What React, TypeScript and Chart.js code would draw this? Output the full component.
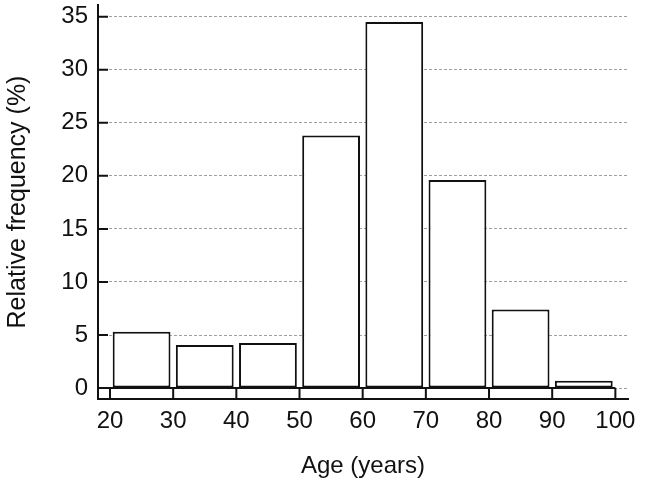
import React, { useEffect, useRef } from "react";
import { Chart, registerables } from "chart.js";

Chart.register(...registerables);

const binEdges = [20, 30, 40, 50, 60, 70, 80, 90, 100];
const frequencies = [5.3, 4.05, 4.25, 23.8, 34.5, 19.6, 7.4, 0.7];
const yTickValues = [0, 5, 10, 15, 20, 25, 30, 35];
const xTickValues = [20, 30, 40, 50, 60, 70, 80, 90, 100];
const xTitle = "Age (years)";
const yTitle = "Relative frequency (%)";

const FONT = "'Liberation Sans', Arial, sans-serif";

const inwardTicks = {
  id: "inwardTicks",
  afterDatasetsDraw(chart: any) {
    const ctx = chart.ctx;
    const xs = chart.scales.x;
    const ys = chart.scales.y;
    const area = chart.chartArea;
    ctx.save();
    ctx.strokeStyle = "#111";
    ctx.lineWidth = 2;
    ctx.beginPath();
    ys.ticks.forEach((t: any) => {
      const py = ys.getPixelForValue(t.value);
      ctx.moveTo(area.left, py);
      ctx.lineTo(area.left + 10, py);
    });
    const baseY = ys.getPixelForValue(0);
    xs.ticks.forEach((t: any) => {
      const px = xs.getPixelForValue(t.value);
      ctx.moveTo(px, area.bottom);
      ctx.lineTo(px, baseY);
    });
    ctx.stroke();
    ctx.restore();
  },
};

export default function App() {
  const ref = useRef<HTMLCanvasElement | null>(null);

  useEffect(() => {
    document.body.style.margin = "0";
    if (!ref.current) return;
    const centers = frequencies.map((_, i) => (binEdges[i] + binEdges[i + 1]) / 2);
    const chart = new Chart(ref.current, {
      type: "bar",
      data: {
        datasets: [
          {
            type: "bar",
            data: frequencies.map((v, i) => ({ x: centers[i], y: v })),
            backgroundColor: "#ffffff",
            borderColor: "#111111",
            borderWidth: 2,
            borderSkipped: false,
            barPercentage: 0.915,
            categoryPercentage: 1,
            order: 2,
          } as any,
          {
            type: "line",
            data: [
              { x: 18.1, y: 0 },
              { x: binEdges[binEdges.length - 1], y: 0 },
            ],
            borderColor: "#111111",
            borderWidth: 2,
            pointRadius: 0,
            order: 1,
          } as any,
        ],
      },
      options: {
        animation: false,
        responsive: false,
        maintainAspectRatio: false,
        layout: { padding: { top: 5, right: 17, left: 0, bottom: 0 } },
        plugins: { legend: { display: false }, tooltip: { enabled: false } },
        scales: {
          x: {
            type: "linear",
            min: 18.1,
            max: 102,
            offset: false,
            afterBuildTicks: (s: any) => {
              s.ticks = xTickValues.map((v) => ({ value: v }));
            },
            afterFit: (s: any) => {
              s.height = 83;
              s.paddingLeft = 0;
              s.paddingRight = 0;
            },
            grid: { display: false, drawTicks: false },
            border: { display: true, color: "#111", width: 2 },
            ticks: {
              padding: 8,
              color: "#111",
              font: { family: FONT, size: 24 },
              maxRotation: 0,
              autoSkip: false,
            },
            title: {
              display: true,
              text: xTitle,
              color: "#111",
              font: { family: FONT, size: 24 },
              padding: { top: 0, bottom: 1 },
            },
          },
          y: {
            type: "linear",
            min: -1.03,
            max: 36.1,
            afterBuildTicks: (s: any) => {
              s.ticks = yTickValues.map((v) => ({ value: v }));
            },
            afterFit: (s: any) => {
              s.width = 98;
              s.paddingTop = 0;
              s.paddingBottom = 0;
            },
            grid: {
              display: true,
              drawTicks: false,
              color: "#a0a0a0",
              lineWidth: 1,
            },
            border: { display: true, color: "#111", width: 2, dash: [3, 2] } as any,
            ticks: {
              padding: 10,
              color: "#111",
              font: { family: FONT, size: 24 },
            },
            title: {
              display: true,
              text: yTitle,
              color: "#111",
              font: { family: FONT, size: 25 },
              padding: { top: 3, bottom: 3 },
            },
          },
        },
      },
      plugins: [inwardTicks],
    });
    return () => chart.destroy();
  }, []);

  return (
    <div style={{ width: 645, height: 482, background: "#fff" }}>
      <canvas ref={ref} width={645} height={482} style={{ width: 645, height: 482, display: "block" }} />
    </div>
  );
}
